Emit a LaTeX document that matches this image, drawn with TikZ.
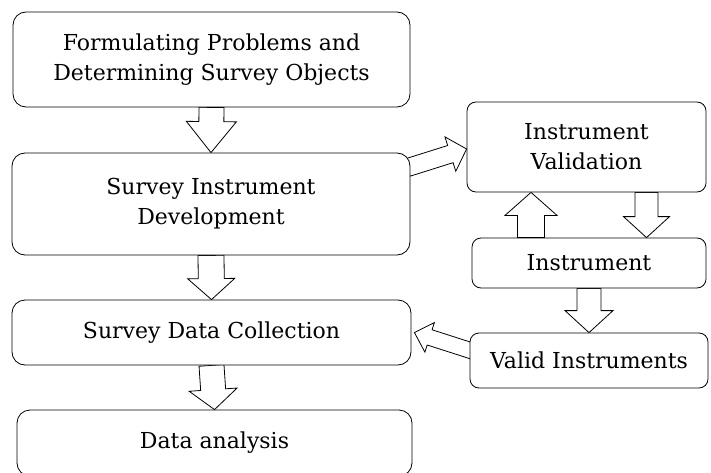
\documentclass[tikz,border=0pt]{standalone}
\usepackage{fontspec}
\setmainfont{DejaVu Serif}
\usetikzlibrary{calc,backgrounds}
\newcommand{\blockarr}[6]{%
  \coordinate (#6s) at (#1);
  \coordinate (#6e) at (#2);
  \coordinate (#6h) at ($(#6e)!#5pt!(#6s)$);
  \draw[blk] ($(#6s)!#3pt!90:(#6e)$) -- ($(#6h)!#3pt!-90:(#6s)$) -- ($(#6h)!#4pt!-90:(#6s)$) -- (#6e)
    -- ($(#6h)!#4pt!90:(#6s)$) -- ($(#6h)!#3pt!90:(#6s)$) -- ($(#6s)!#3pt!-90:(#6e)$) -- cycle;
}
\begin{document}
\begin{tikzpicture}[x=1pt,y=-1pt,
  box/.style={draw, line width=0.8pt, fill=white, rounded corners=13pt, align=center, inner sep=0pt,
    font=\fontsize{22}{30}\selectfont},
  small/.style={box, rounded corners=9pt},
  blk/.style={draw, line width=0.8pt, fill=white, line join=miter}]
\useasboundingbox (0,0) rectangle (711,473);
\clip (0,0) rectangle (711,473);
\node[box, minimum width=397pt, minimum height=95pt] (b1) at (211.5,59.5) {Formulating Problems and\\Determining Survey Objects};
\node[box, minimum width=398pt, minimum height=102pt] (b2) at (211,204) {Survey Instrument\\Development};
\node[box, minimum width=399pt, minimum height=65pt] (b3) at (211.5,332.5) {Survey Data Collection};
\node[box, minimum width=395pt, minimum height=66pt] (b4) at (214.5,443) {Data analysis};
\node[small, minimum width=239pt, minimum height=90pt] (val) at (586.5,147) {Instrument\\Validation};
\node[small, minimum width=234pt, minimum height=50pt] (ins) at (589,263) {Instrument};
\node[small, minimum width=238pt, minimum height=55pt] (vi) at (589,360.5) {Valid Instruments};
\coordinate (u1) at ($(ins.north)+(-58,0)$);
\coordinate (u2) at (u1 |- val.south);
\coordinate (d1) at ($(val.south)+(60,0)$);
\coordinate (d2) at (d1 |- ins.north);
\coordinate (g1) at ($(b2.north east)+(-3,15)$);
\coordinate (g2) at ($(val.west)+(0,2)$);
\coordinate (h1) at ($(vi.west)+(4,-9)$);
\coordinate (h2) at ($(b3.east)+(3,0)$);
\begin{scope}[on background layer]
\blockarr{b1.south}{b2.north}{12.5}{25}{31}{a1}
\blockarr{b2.south}{b3.north}{13}{23.5}{21}{a2}
\blockarr{b3.south}{b4.north}{12.5}{24}{20}{a3}
\blockarr{u1}{u2}{13.5}{26}{23}{a4}
\blockarr{d1}{d2}{11.5}{23}{21}{a5}
\blockarr{ins.south}{vi.north}{12}{24}{22}{a6}
\blockarr{g1}{g2}{9}{18}{17}{a7}
\blockarr{h1}{h2}{8}{15.5}{16}{a8}
\end{scope}
\end{tikzpicture}
\end{document}
